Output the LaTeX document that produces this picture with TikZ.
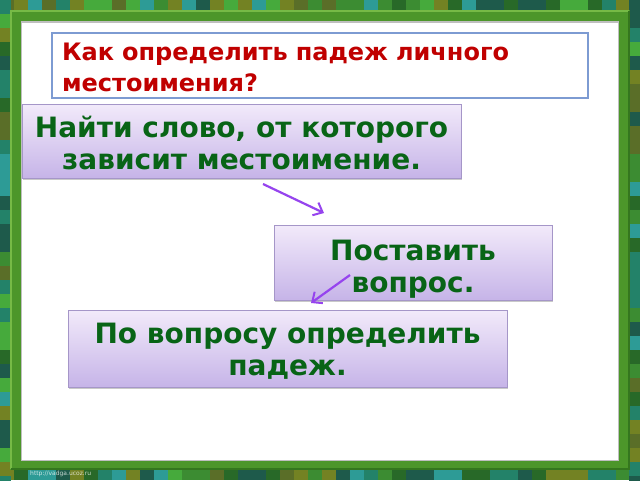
\documentclass[tikz,border=0pt]{standalone}
\usepackage{fontspec}
\setmainfont{DejaVu Sans}
\usetikzlibrary{arrows.meta,shadows}
\definecolor{tile1}{RGB}{40,105,40}
\definecolor{tile2}{RGB}{60,140,50}
\definecolor{tile3}{RGB}{35,130,105}
\definecolor{tile4}{RGB}{115,130,35}
\definecolor{tile5}{RGB}{70,170,60}
\definecolor{tile6}{RGB}{30,90,75}
\definecolor{tile7}{RGB}{45,155,150}
\definecolor{tile8}{RGB}{90,110,40}
\definecolor{framegreen}{RGB}{76,150,42}
\definecolor{framelight}{RGB}{118,186,70}
\definecolor{framedark}{RGB}{52,118,30}
\definecolor{titleline}{RGB}{125,155,210}
\definecolor{titlered}{RGB}{192,0,0}
\definecolor{txtgreen}{RGB}{8,100,22}
\definecolor{boxtop}{RGB}{242,234,250}
\definecolor{boxbot}{RGB}{198,180,232}
\definecolor{boxline}{RGB}{165,150,200}
\definecolor{arrowpurple}{RGB}{150,68,238}
\tikzset{
  pbox/.style={draw=boxline, line width=0.8pt, top color=boxtop, bottom color=boxbot,
    inner sep=0pt,
    drop shadow={shadow xshift=1.2pt, shadow yshift=-1.5pt, opacity=0.35, fill=black!60}},
  steptext/.style={text=txtgreen, font=\fontsize{28}{32}\selectfont\bfseries, align=center, inner sep=0pt},
  titlebox/.style={draw=titleline, line width=1.3pt, fill=white, inner sep=0pt},
  titletext/.style={text=titlered, font=\fontsize{24}{30.5}\selectfont\bfseries, align=left,
    text width=516pt, inner sep=0pt},
  flowarrow/.style={draw=arrowpurple, line width=2.2pt, -{Straight Barb[length=8pt,width=14pt,line width=2pt]}}
}
\begin{document}
\begin{tikzpicture}[x=1pt,y=-1pt]
\useasboundingbox (0,0) rectangle (640,480);
% mosaic background
\fill[tile2] (0,0) rectangle (640,480);
\pgfmathsetseed{11}
\foreach \i in {0,...,45} {
  \pgfmathrandominteger{\ca}{1}{8}
  \fill[tile\ca] (\i*14,0) rectangle ++(14,11);
  \pgfmathrandominteger{\cb}{1}{8}
  \fill[tile\cb] (\i*14,469) rectangle ++(14,11);
}
\foreach \j in {0,...,34} {
  \pgfmathrandominteger{\cc}{1}{8}
  \fill[tile\cc] (0,\j*14) rectangle ++(11,14);
  \pgfmathrandominteger{\cd}{1}{8}
  \fill[tile\cd] (629,\j*14) rectangle ++(11,14);
}
% frame
\fill[framegreen] (10,10) rectangle (630,470);
\draw[framelight, line width=2pt] (11,469) -- (11,11) -- (629,11);
\draw[framedark, line width=1.5pt] (629,11) -- (629,469) -- (11,469);
\fill[black!25] (21,21) rectangle (619,461);
\fill[white] (22,23) rectangle (618,460);
% title
\node[titlebox, minimum width=536pt, minimum height=65pt] (title) at (320,65.5) {};
\node[titletext] (tt) at ([yshift=-2pt]title.center) {Как определить падеж личного\\местоимения?};
% steps
\node[pbox, minimum width=439pt, minimum height=74pt] (b1) at (241.5,141) {};
\node[steptext] (t1) at ([yshift=-2pt]b1.center) {Найти слово, от которого\\зависит местоимение.};
\node[pbox, minimum width=278pt, minimum height=75pt] (b2) at (413,262.5) {};
\node[steptext] (t2) at ([yshift=-7pt]b2.center) {Поставить\\вопрос.};
\node[pbox, minimum width=439pt, minimum height=77pt] (b3) at (287.5,348.5) {};
\node[steptext] (t3) at ([yshift=-3pt]b3.center) {По вопросу определить\\падеж.};
% arrows
\coordinate (a1s) at (263,184);
\coordinate (a1e) at (324,213);
\coordinate (a2s) at (350,275);
\coordinate (a2e) at (311,303);
\draw[flowarrow] (a1s) -- (a1e);
\draw[flowarrow] (a2s) -- (a2e);
% watermark
\node[anchor=west, text=white, opacity=0.75, font=\fontsize{6}{7}\selectfont, inner sep=0pt] (wm) at (30,474) {http://vadga.ucoz.ru};
\end{tikzpicture}
\end{document}
